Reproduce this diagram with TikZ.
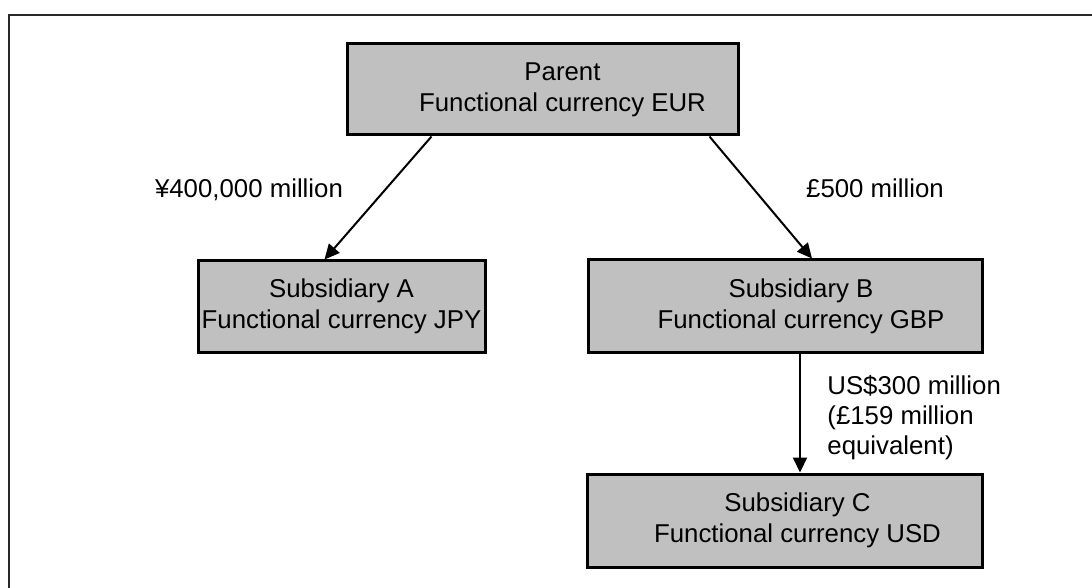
\documentclass[tikz,border=0pt]{standalone}
\usepackage{fontspec}
\setmainfont{Liberation Sans}
\usetikzlibrary{arrows.meta}
\definecolor{boxgray}{RGB}{192,192,192}
\definecolor{framegray}{RGB}{40,40,40}
\tikzset{
  entity/.style={draw=black, line width=1.5pt, fill=boxgray, inner sep=0pt},
  etext/.style={align=center, inner sep=0pt, font=\fontsize{12.9pt}{15.5pt}\selectfont},
  link/.style={line width=1pt, -{Triangle[length=7.5pt,width=7pt]}},
  lbl/.style={font=\fontsize{12.9pt}{15pt}\selectfont, inner sep=0pt}
}
\begin{document}
\begin{tikzpicture}[x=0.5pt,y=-0.5pt]
\useasboundingbox (0,0) rectangle (1092,588);
\coordinate (fbl) at (9,588);
\coordinate (ftl) at (9,15);
\coordinate (ftr) at (1092,15);
\draw[framegray, line width=1pt] (fbl) -- (ftl) -- (ftr);
% boxes
\node[entity, minimum width=195.5pt, minimum height=45.5pt] (P) at (542.5,89.5) {};
\node[entity, minimum width=143.5pt, minimum height=45.5pt] (A) at (341.5,306.5) {};
\node[entity, minimum width=197pt, minimum height=46pt] (B) at (785,306) {};
\node[entity, minimum width=197.5pt, minimum height=46.5pt] (C) at (784.5,520.5) {};
% box texts
\node[etext] (Pt) at ([xshift=10pt]P.center) {Parent\\Functional currency EUR};
\node[etext] (At) at (A.center) {Subsidiary A\\Functional currency JPY};
\node[etext] (Bt) at ([xshift=8pt]B.center) {Subsidiary B\\Functional currency GBP};
\node[etext] (Ct) at ([xshift=6.5pt]C.center) {Subsidiary C\\Functional currency USD};
% connectors
\draw[link] ([xshift=43pt]P.south west) -- ([xshift=64pt]A.north west);
\draw[link] ([xshift=-15pt]P.south east) -- ([xshift=13.5pt]B.north);
\draw[link] ([xshift=7.5pt]B.south) -- ([xshift=7.75pt]C.north);
% labels
\node[lbl] (la) at (249,190) {¥400,000 million};
\node[lbl] (lb) at (875,188) {£500 million};
\node[lbl, align=left, anchor=west] (lc) at (827,418) {US\$300 million\\(£159 million\\equivalent)};
\end{tikzpicture}
\end{document}
